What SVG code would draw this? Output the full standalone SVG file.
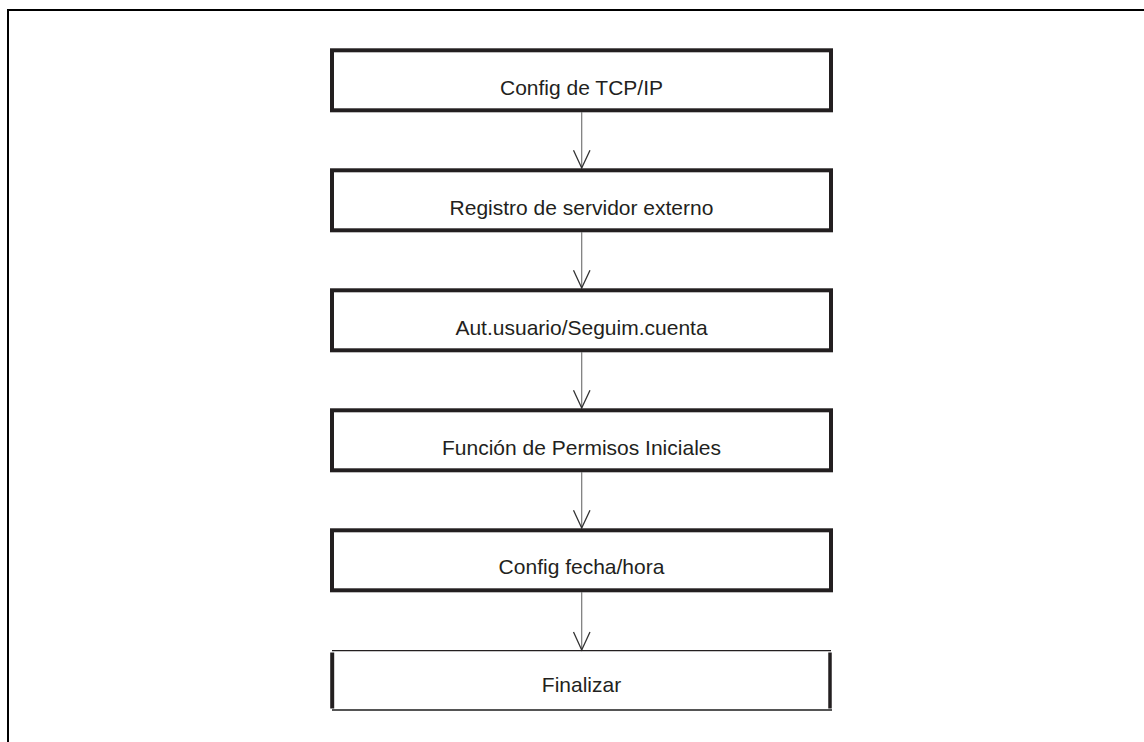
<svg xmlns="http://www.w3.org/2000/svg" width="1144" height="742" viewBox="0 0 1144 742">
  <style>
    .box { fill: #ffffff; stroke: #231f20; stroke-width: 4; }
    .lbl { font-family: "Liberation Sans", Arial, Helvetica, sans-serif; font-size: 21px; fill: #231f20; text-anchor: middle; }
    .conn { stroke: #777777; stroke-width: 1.2; fill: none; }
    .head { stroke: #333333; stroke-width: 1.3; fill: none; }
    .frame { stroke: #000000; stroke-width: 2; fill: none; }
  </style>
  <rect x="0" y="0" width="1144" height="742" fill="#ffffff"/>
  <g id="frame">
    <path class="frame" d="M8,742 V10 H1144"/>
  </g>
  <g id="connectors">
    <line class="conn" x1="581.7" y1="112.3" x2="581.7" y2="168"/>
    <polyline class="head" points="573.5,150.3 581.7,168 590,150.3"/>
    <line class="conn" x1="581.7" y1="232.3" x2="581.7" y2="288"/>
    <polyline class="head" points="573.5,270.3 581.7,288 590,270.3"/>
    <line class="conn" x1="581.7" y1="352.3" x2="581.7" y2="408"/>
    <polyline class="head" points="573.5,390.3 581.7,408 590,390.3"/>
    <line class="conn" x1="581.7" y1="472.3" x2="581.7" y2="528"/>
    <polyline class="head" points="573.5,510.3 581.7,528 590,510.3"/>
    <line class="conn" x1="581.7" y1="592.3" x2="581.7" y2="650"/>
    <polyline class="head" points="573.5,632 581.7,650 590,632"/>
  </g>
  <g id="node1">
    <rect class="box" x="332" y="50.3" width="499" height="60"/>
    <text class="lbl" x="581.5" y="95">Config de TCP/IP</text>
  </g>
  <g id="node2">
    <rect class="box" x="332" y="170.3" width="499" height="60"/>
    <text class="lbl" x="581.5" y="215">Registro de servidor externo</text>
  </g>
  <g id="node3">
    <rect class="box" x="332" y="290.3" width="499" height="60"/>
    <text class="lbl" x="581.5" y="334.5">Aut.usuario/Seguim.cuenta</text>
  </g>
  <g id="node4">
    <rect class="box" x="332" y="410.3" width="499" height="60"/>
    <text class="lbl" x="581.5" y="454.5">Función de Permisos Iniciales</text>
  </g>
  <g id="node5">
    <rect class="box" x="332" y="530.3" width="499" height="60"/>
    <text class="lbl" x="581.5" y="574">Config fecha/hora</text>
  </g>
  <g id="node6">
    <line x1="332" y1="650.6" x2="831" y2="650.6" stroke="#231f20" stroke-width="1.2"/>
    <line x1="332" y1="710" x2="832" y2="710" stroke="#555555" stroke-width="2"/>
    <line x1="332.2" y1="652.5" x2="332.2" y2="708.5" stroke="#231f20" stroke-width="4"/>
    <line x1="830" y1="652.5" x2="830" y2="708.5" stroke="#231f20" stroke-width="3.5"/>
    <text class="lbl" x="581.5" y="691.5">Finalizar</text>
  </g>
</svg>
